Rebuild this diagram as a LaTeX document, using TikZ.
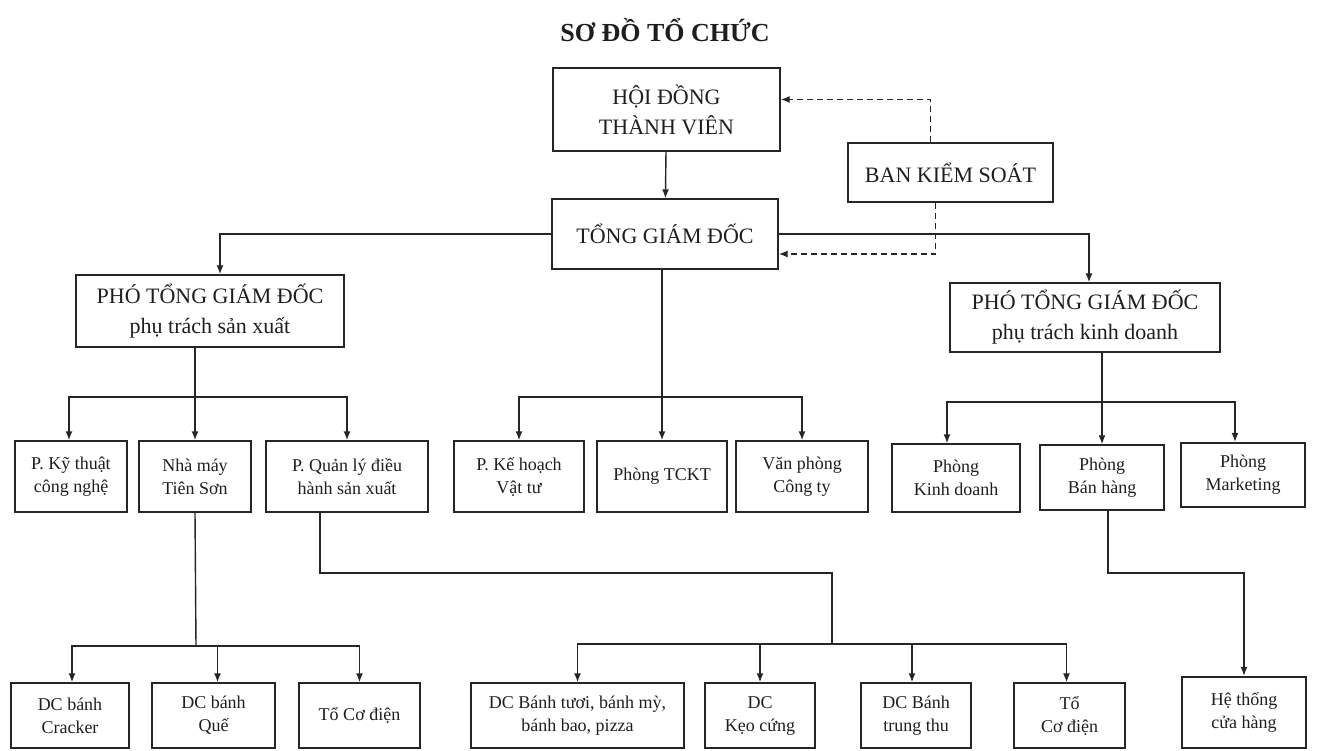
\documentclass[tikz,border=0pt]{standalone}
\usepackage{fontspec}
\setmainfont{Liberation Serif}
\usepackage{xcolor}
\usetikzlibrary{arrows.meta}
\definecolor{lineGray}{HTML}{262626}
\definecolor{textGray}{HTML}{1E1E1E}

\begin{document}
\begin{tikzpicture}[x=1pt,y=-1pt]
	\tikzset{
		box/.style={draw=lineGray, line width=1.4pt, align=center, inner sep=2pt, text=textGray},
		bigbox/.style={box, font=\fontsize{22}{30}\selectfont},
		smallbox/.style={box, font=\fontsize{18}{23}\selectfont},
		heavybox/.style={smallbox, line width=2.2pt},
		link/.style={draw=lineGray, line width=1.4pt},
		arr/.style={link, -{Latex[length=9pt,width=7pt]}},
		dasharr/.style={arr, dash pattern=on 6pt off 4pt}
	}
	\useasboundingbox (0,0) rectangle (1318,751);
	\node[font=\fontsize{26}{30}\selectfont\bfseries, text=textGray] (title) at (665,30) {SƠ ĐỒ TỔ CHỨC};
	% top levels
	\node[bigbox, minimum width=227, minimum height=83] (hdtv) at (666.5,109.5) {HỘI ĐỒNG\\THÀNH VIÊN};
	\node[bigbox, minimum width=226, minimum height=70] (tgd) at (665,234) {TỔNG GIÁM ĐỐC};
	\node[bigbox, minimum width=205, minimum height=59] (bks) at (950.5,172.5) {BAN KIỂM SOÁT};
	\node[bigbox, minimum width=268, minimum height=72] (ptsx) at (210,311) {PHÓ TỔNG GIÁM ĐỐC\\phụ trách sản xuất};
	\node[bigbox, minimum width=270, minimum height=69] (ptkd) at (1085,317.5) {PHÓ TỔNG GIÁM ĐỐC\\phụ trách kinh doanh};
	% second row
	\node[smallbox, minimum width=112, minimum height=71] (kt) at (71,476.5) {P. Kỹ thuật\\công nghệ};
	\node[smallbox, minimum width=112, minimum height=71] (nm) at (195,476.5) {Nhà máy\\Tiên Sơn};
	\node[smallbox, minimum width=162, minimum height=71] (ql) at (347,476.5) {P. Quản lý điều\\hành sản xuất};
	\node[smallbox, minimum width=130, minimum height=71] (kh) at (519,476.5) {P. Kế hoạch\\Vật tư};
	\node[smallbox, minimum width=130, minimum height=71] (tckt) at (662,476.5) {Phòng TCKT};
	\node[smallbox, minimum width=132, minimum height=71] (vp) at (802,476.5) {Văn phòng\\Công ty};
	\node[smallbox, minimum width=128, minimum height=68] (pkd) at (956,478) {Phòng\\Kinh doanh};
	\node[smallbox, minimum width=124, minimum height=65] (pbh) at (1102,477.5) {Phòng\\Bán hàng};
	\node[heavybox, minimum width=124, minimum height=64] (pmk) at (1243,475) {Phòng\\Marketing};
	% third row
	\node[smallbox, minimum width=118, minimum height=65] (cr) at (70,715.5) {DC bánh\\Cracker};
	\node[smallbox, minimum width=123, minimum height=65] (qu) at (213.5,715.5) {DC bánh\\Quế};
	\node[smallbox, minimum width=121, minimum height=65] (cda) at (359.5,715.5) {Tổ Cơ điện};
	\node[smallbox, minimum width=213, minimum height=65] (bt) at (577.5,715.5) {DC Bánh tươi, bánh mỳ,\\bánh bao, pizza};
	\node[smallbox, minimum width=110, minimum height=65] (kc) at (760,715.5) {DC\\Kẹo cứng};
	\node[smallbox, minimum width=110, minimum height=65] (tt) at (916,715.5) {DC Bánh\\trung thu};
	\node[smallbox, minimum width=111, minimum height=65] (cdb) at (1069.5,715.5) {Tổ\\Cơ điện};
	\node[heavybox, minimum width=124, minimum height=71] (ht) at (1244,712.5) {Hệ thống\\cửa hàng};
	% bus points
	\coordinate (busl) at (195,397);
	\coordinate (busm) at (662,397);
	\coordinate (busr) at (1102,402);
	\coordinate (busq) at (196,646);
	\coordinate (busp) at (832,644);
	\coordinate (qlk) at (832,573);
	\coordinate (bhk) at (1244,573);
	% connectors
	\draw[arr] (hdtv) -- (tgd);
	\draw[dasharr] ([xshift=-20pt]bks.north) |- ([yshift=10pt]hdtv.east);
	\draw[dasharr] ([xshift=-15pt]bks.south) |- ([yshift=-20pt]tgd.east);
	\draw[arr] (tgd.west) -| ([xshift=10pt]ptsx.north);
	\draw[arr] (tgd.east) -| ([xshift=4pt]ptkd.north);
	\draw[arr] (tckt.north |- tgd.south) -- (tckt.north);
	\draw[arr] (busm) -| (kh.north);
	\draw[arr] (busm) -| (vp.north);
	\draw[arr] (nm.north |- ptsx.south) -- (nm.north);
	\draw[arr] (busl) -| ([xshift=-2pt]kt.north);
	\draw[arr] (busl) -| (ql.north);
	\draw[arr] (pbh.north |- ptkd.south) -- (pbh.north);
	\draw[arr] (busr) -| ([xshift=-9pt]pkd.north);
	\draw[arr] (busr) -| ([xshift=-8pt]pmk.north);
	\draw[link] (nm.south) -- (busq);
	\draw[arr] (busq) -| ([xshift=2pt]cr.north);
	\draw[arr] (busq) -| ([xshift=4pt]qu.north);
	\draw[arr] (busq) -| (cda.north);
	\draw[link] ([xshift=-27pt]ql.south) |- (qlk) -- (busp);
	\draw[arr] (busp) -| (bt.north);
	\draw[arr] (busp) -| (kc.north);
	\draw[arr] (busp) -| ([xshift=-4pt]tt.north);
	\draw[arr] (busp) -| ([xshift=-3pt]cdb.north);
	\draw[arr] ([xshift=6pt]pbh.south) |- (bhk) -- (ht.north);
\end{tikzpicture}
\end{document}
